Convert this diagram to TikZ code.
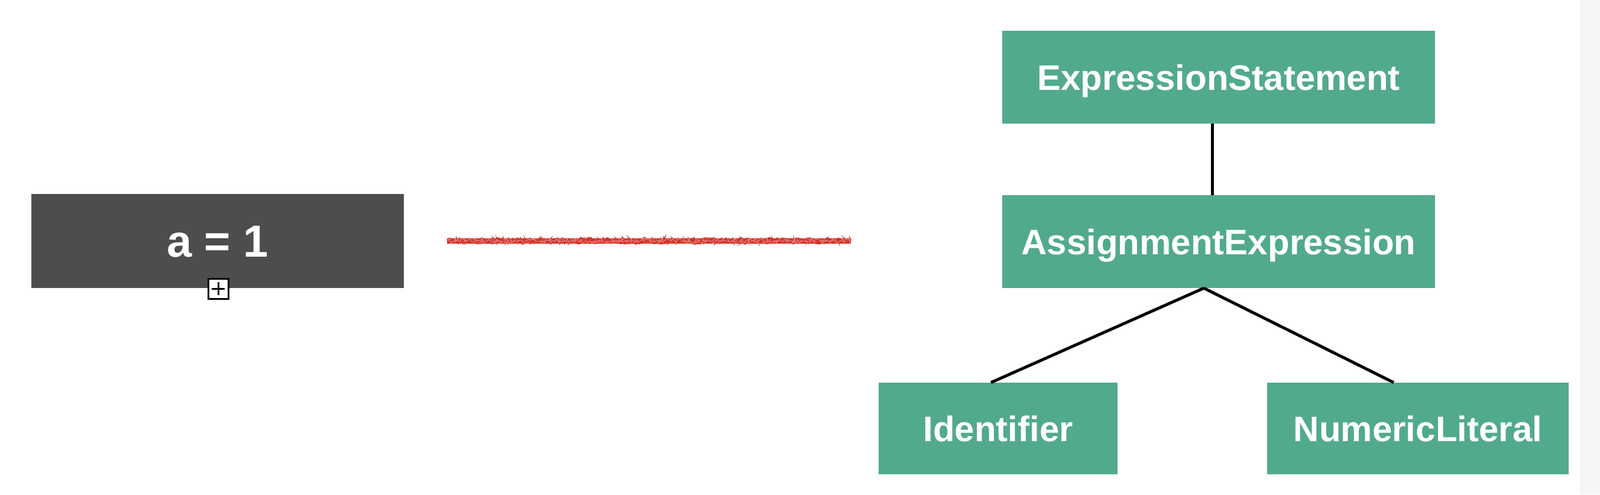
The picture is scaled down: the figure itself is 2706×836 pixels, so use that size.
\documentclass[tikz,border=0pt]{standalone}
\usepackage{fontspec}
\setmainfont{Liberation Sans}
\usetikzlibrary{decorations.pathmorphing}
\definecolor{astgreen}{RGB}{82,170,142}
\definecolor{codegray}{RGB}{77,77,77}
\definecolor{scribble}{RGB}{212,48,38}
\begin{document}
\begin{tikzpicture}[x=1pt,y=-1pt,
  astnode/.style={fill=astgreen, text=white, font=\fontsize{60}{72}\selectfont\bfseries, minimum height=157pt, inner sep=0pt, text height=43pt, text depth=0pt},
  treeedge/.style={line width=5pt, black},
  codebox/.style={fill=codegray, text=white, minimum width=630pt, minimum height=159pt, inner sep=0pt, font=\fontsize{76}{90}\selectfont\bfseries, text height=54pt, text depth=0pt},
  plusbox/.style={draw=black, line width=3pt, fill=white, minimum size=34pt, inner sep=0pt},
  redscribble/.style={scribble, line width=9pt},
  redfuzz/.style={scribble!85!white, line width=1.8pt, decorate, decoration={random steps, segment length=2.5pt, amplitude=6pt}}
]
\fill[white] (0,0) rectangle (2706,836);
\fill[gray!7] (2672,0) rectangle (2706,836);
\useasboundingbox (0,0) rectangle (2706,836);

\node[codebox] (code) at (368,407.5) {a = 1};
\node[plusbox] (plus) at (369,488) {};
\draw[line width=3pt] ([xshift=-11pt]plus.center) -- ([xshift=11pt]plus.center);
\draw[line width=3pt] ([yshift=-11pt]plus.center) -- ([yshift=11pt]plus.center);

\coordinate (rs) at (756,407);
\coordinate (re) at (1439,407);
\draw[redscribble] (rs) -- (re);
\draw[redfuzz] (rs) -- (re);
\draw[redfuzz, scribble, decoration={random steps, segment length=3pt, amplitude=5.5pt}] (rs) -- (re);
\draw[redfuzz, scribble!65!white, line width=1.2pt, decoration={random steps, segment length=2pt, amplitude=4pt}] (rs) -- (re);

\node[astnode, minimum width=732pt] (es) at (2061,130.5) {ExpressionStatement};
\node[astnode, minimum width=732pt] (ae) at (2061,408.5) {AssignmentExpression};
\node[astnode, minimum width=404pt, minimum height=155pt] (id) at (1688,724.5) {Identifier};
\node[astnode, minimum width=510pt, minimum height=155pt] (nl) at (2398,724.5) {NumericLiteral};

\draw[treeedge] ([xshift=-11pt]es.south) -- ([xshift=-11pt]ae.north);
\draw[treeedge] ([xshift=-25pt]ae.south) -- ([xshift=-12pt]id.north);
\draw[treeedge] ([xshift=-25pt]ae.south) -- ([xshift=-41pt]nl.north);
\end{tikzpicture}
\end{document}
